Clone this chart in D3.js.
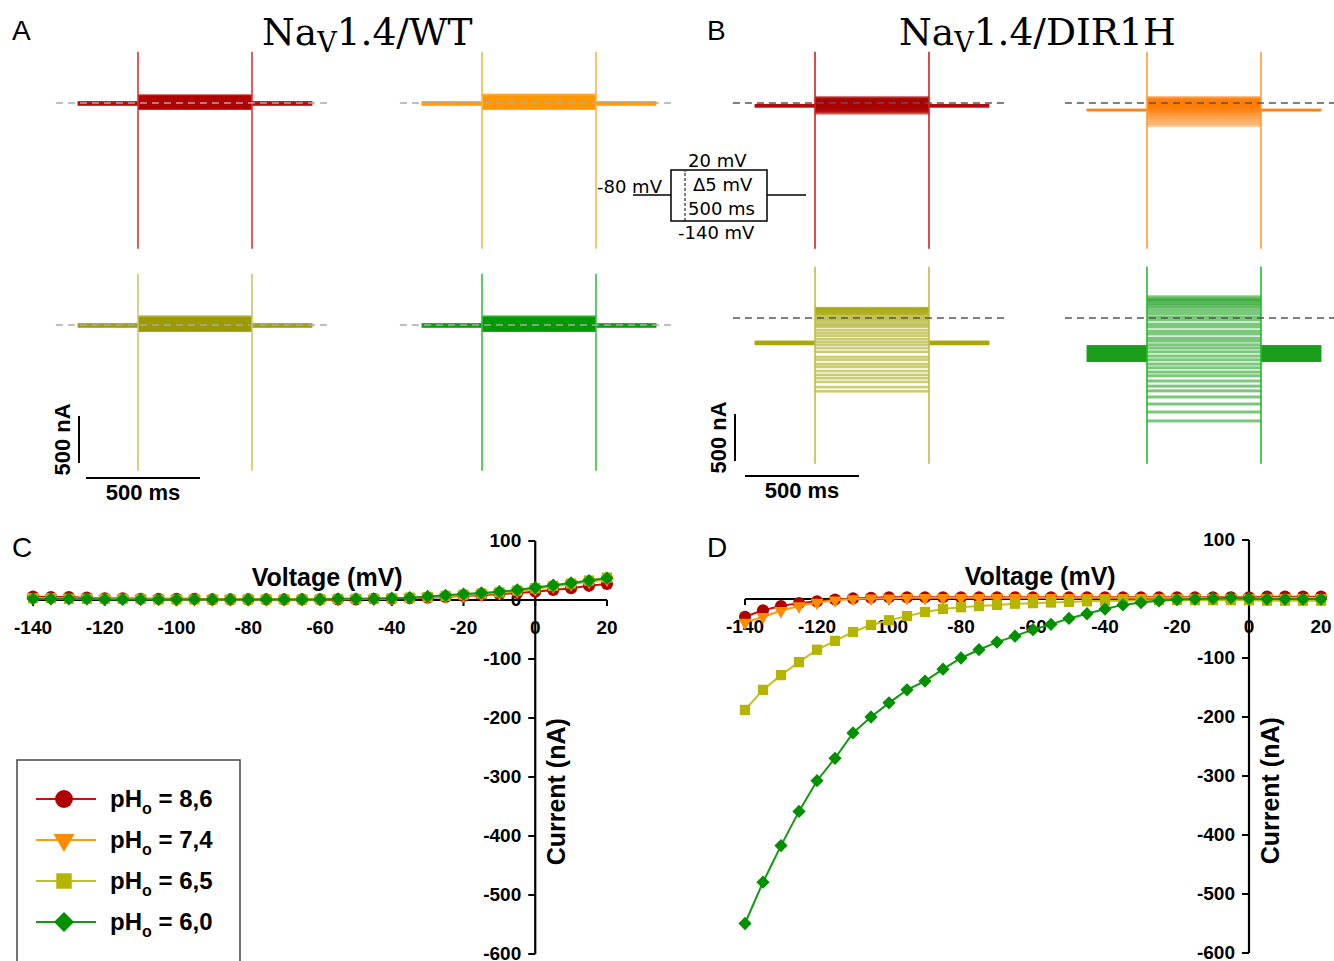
<!DOCTYPE html>
<html><head><meta charset="utf-8">
<script src="https://cdn.jsdelivr.net/npm/d3@7"></script>
<style>body{margin:0;background:#fff}svg{display:block}</style>
</head><body>
<svg id="fig" width="1334" height="961"></svg>
<script>
// ================= DATA =================
const voltages = [-140,-135,-130,-125,-120,-115,-110,-105,-100,-95,-90,-85,-80,-75,-70,-65,-60,-55,-50,-45,-40,-35,-30,-25,-20,-15,-10,-5,0,5,10,15,20];
const phLabels = ['8,6','7,4','6,5','6,0'];
const xTicks = [-140,-120,-100,-80,-60,-40,-20,0,20];
const yTicks = [100,0,-100,-200,-300,-400,-500,-600];

// Panel C: Nav1.4/WT I-V (nA)
const ivWT_86 = [6,5,5,4,3,3,2,2,2,2,1,1,1,1,1,1,1,1,1,2,2,3,4,5,7,8,10,12,14,17,20,24,27];
const ivWT_74 = [4,3,3,3,2,2,2,2,1,1,1,1,1,1,1,1,1,1,2,2,3,4,5,6,8,10,12,15,19,23,27,31,35];
const ivWT_65 = [3,3,2,2,2,2,2,1,1,1,1,1,1,1,1,1,1,2,2,2,3,4,5,7,9,11,13,16,20,24,28,33,38];
const ivWT_60 = [2,2,2,2,1,1,1,1,1,1,1,1,1,1,1,1,1,2,2,2,3,4,6,8,10,12,14,17,21,25,29,33,37];

// Panel D: Nav1.4/DIR1H I-V (nA)
const ivDIR_86 = [-30,-19,-12,-7,-4,-1,1,2,3,3,3,3,3,3,3,3,3,3,3,3,3,3,3,3,3,3,3,3,3,4,4,4,4];
const ivDIR_74 = [-40,-30,-20,-12,-6,-2,0,1,1,2,2,2,2,2,2,2,2,2,2,2,2,2,2,2,2,2,2,2,2,2,2,2,2];
const ivDIR_65 = [-188,-154,-129,-107,-86,-71,-56,-44,-36,-29,-22,-17,-14,-12,-10,-8,-7,-6,-5,-4,-3,-3,-2,-2,-2,-2,-2,-2,-2,-3,-3,-3,-3];
const ivDIR_60 = [-550,-480,-418,-360,-308,-270,-227,-200,-176,-154,-139,-119,-100,-86,-73,-63,-52,-43,-33,-25,-17,-10,-6,-3,-1,0,1,2,1,0,0,0,0];

// Panel B: representative trace step currents (nA) per sweep
const trDIR_86 = [-100,-90,-80,-70,-62,-55,-48,-42,-36,-30,-26,-22,-18,-15,-12,-10,-8,-6,-4,-2,0,2,4,6,8,12,16,20,25,30,36,42,50];
const trDIR_74 = [-235,-210,-188,-168,-150,-135,-120,-108,-96,-86,-77,-69,-62,-55,-49,-43,-38,-33,-28,-23,-18,-13,-8,-3,2,8,14,20,27,34,41,48,55];
const trDIR_65 = [-780,-735,-680,-640,-605,-565,-520,-490,-445,-415,-360,-320,-285,-255,-225,-190,-160,-130,-95,-75,-55,-30,-10,10,30,45,55,65,75,85,95,100,105];
const trDIR_60 = [-1095,-1000,-915,-840,-775,-725,-670,-615,-575,-530,-490,-445,-405,-360,-320,-285,-245,-215,-170,-140,-95,-65,-20,10,45,75,105,130,150,170,190,200,225];
// holding current and noise half-widths (nA) for the 8 trace panels (A: 8.6,7.4,6.5,6.0 ; B: same)
const traceHolding   = [-5,-5,-5,-5,-30,-75,-265,-378];
const traceHoldNoise = [25,25,25,25,20,15,25,90];
const traceStepNoise = [68,68,68,68,25,20,14,16];
const traceSpike = [545,-1550];

// protocol (mV / ms)
const protoLevels = [-80,20,-140];
const protoTimes = [-200,0,500,700];

// ================= LAYOUT / STYLE =================
const svg = d3.select('#fig');
const SANS = "'Liberation Sans', Arial, sans-serif";
const DJ = "'DejaVu Sans', sans-serif";
const SERIF = "'DejaVu Serif', serif";
const markColors = ['#b00000','#ff8c00','#b5b400','#009000'];
const lineColors = ['#cc1010','#ff9a10','#c2c026','#129a12'];

// panel letters
[['A',12,40],['B',707,40],['C',12,557],['D',707,557]].forEach(([t,x,y])=>{
  svg.append('text').attr('x',x).attr('y',y).attr('font-family',SANS).attr('font-size',28).text(t);
});
// titles
function title(x, rest){
  const t = svg.append('text').attr('x',x).attr('y',45).attr('font-family',SERIF).attr('font-size',37.5);
  t.append('tspan').text('Na');
  t.append('tspan').attr('font-size',27).attr('dy',7).text('V');
  t.append('tspan').attr('dy',-7).text(rest);
}
title(262,'1.4/WT');
title(899,'1.4/DIR1H');

// ================= TRACES =================
const tracePanels = [
  {x0:138, y0:103, steps:ivWT_86, color:'#b30000', spike:'#e03232', dash:'#aaaaaa', op:0.35},
  {x0:482, y0:103, steps:ivWT_74, color:'#ff9900', spike:'#ffb347', dash:'#aaaaaa', op:0.35},
  {x0:138, y0:325, steps:ivWT_65, color:'#9c9a00', spike:'#c9c86a', dash:'#aaaaaa', op:0.35},
  {x0:482, y0:325, steps:ivWT_60, color:'#009a00', spike:'#33c433', dash:'#aaaaaa', op:0.35},
  {x0:815, y0:103, steps:trDIR_86, color:'#aa0000', spike:'#d02020', dash:'#555555', op:0.45},
  {x0:1147,y0:103, steps:trDIR_74, color:'#ff7a00', spike:'#ff9a3a', dash:'#555555', op:0.4},
  {x0:815, y0:318, steps:trDIR_65, color:'#a3a300', spike:'#bdbd40', dash:'#555555', op:0.55},
  {x0:1147,y0:318, steps:trDIR_60, color:'#0f990f', spike:'#22bb22', dash:'#555555', op:0.55}
];
const stepMs = 500, pxPer500ms = 114, pxPer500nA = 47;
tracePanels.forEach((p,k)=>{
  const t = d3.scaleLinear().domain([0,stepMs]).range([p.x0, p.x0+pxPer500ms]);
  const c = d3.scaleLinear().domain([0,-500]).range([p.y0, p.y0+pxPer500nA]);
  const g = svg.append('g');
  const h = traceHolding[k], hn = traceHoldNoise[k], sn = traceStepNoise[k];
  [[-265,0],[500,765]].forEach(([a,b])=>{
    g.append('rect').attr('x',t(a)).attr('width',t(b)-t(a))
      .attr('y',c(h+hn)).attr('height',Math.max(1.5,c(h-hn)-c(h+hn)))
      .attr('fill',p.color).attr('opacity',0.95);
  });
  p.steps.forEach(v=>{
    g.append('rect').attr('x',t(0)).attr('width',t(500)-t(0))
      .attr('y',c(v+sn)).attr('height',c(v-sn)-c(v+sn))
      .attr('fill',p.color).attr('opacity',p.op);
  });
  [0,500].forEach(tt=>{
    g.append('line').attr('x1',t(tt)).attr('x2',t(tt))
      .attr('y1',c(traceSpike[0])).attr('y2',c(traceSpike[1]))
      .attr('stroke',p.spike).attr('stroke-width',1.6);
  });
  g.append('line').attr('x1',t(-360)).attr('x2',t(835)).attr('y1',c(0)).attr('y2',c(0))
    .attr('stroke',p.dash).attr('stroke-width',1.6).attr('stroke-dasharray','7,5');
});

// scale bars
function scaleBar(x0, y0, xv, yTop){
  const t = d3.scaleLinear().domain([0,stepMs]).range([x0, x0+pxPer500ms]);
  const c = d3.scaleLinear().domain([0,500]).range([yTop+pxPer500nA, yTop]);
  svg.append('line').attr('x1',t(0)).attr('x2',t(500)).attr('y1',y0).attr('y2',y0).attr('stroke','#000').attr('stroke-width',2);
  svg.append('line').attr('x1',xv).attr('x2',xv).attr('y1',c(0)).attr('y2',c(500)).attr('stroke','#000').attr('stroke-width',2);
  svg.append('text').attr('x',t(250)).attr('y',y0+22).attr('text-anchor','middle')
    .attr('font-family',SANS).attr('font-weight','bold').attr('font-size',22).text('500 ms');
  svg.append('text').attr('transform',`translate(${xv-9},${c(250)}) rotate(-90)`).attr('text-anchor','middle')
    .attr('font-family',SANS).attr('font-weight','bold').attr('font-size',22).text('500 nA');
}
scaleBar(86, 478, 79, 416);
scaleBar(745, 476, 735, 414);

// protocol inset
{
  const pt = d3.scaleLinear().domain([-200,0,500,700]).range([633,671,767,806]);
  const pv = d3.scaleLinear().domain([-140,-80,20]).range([221,195,170]);
  const g = svg.append('g').attr('stroke','#000').attr('stroke-width',1.5).attr('fill','none');
  g.append('line').attr('x1',pt(protoTimes[0])).attr('x2',pt(protoTimes[1])).attr('y1',pv(protoLevels[0])).attr('y2',pv(protoLevels[0]));
  g.append('line').attr('x1',pt(protoTimes[2])).attr('x2',pt(protoTimes[3])).attr('y1',pv(protoLevels[0])).attr('y2',pv(protoLevels[0]));
  g.append('rect').attr('x',pt(0)).attr('y',pv(protoLevels[1])).attr('width',pt(500)-pt(0)).attr('height',pv(protoLevels[2])-pv(protoLevels[1]));
  g.append('line').attr('x1',pt(73)).attr('x2',pt(73)).attr('y1',pv(-140)).attr('y2',pv(16)).attr('stroke-dasharray','3,2').attr('stroke-width',1);
  svg.append('path').attr('d',`M${pt(73)-2.5},${pv(14)} L${pt(73)},${pv(20)+1} L${pt(73)+2.5},${pv(14)} Z`).attr('fill','#000');
  const txt = [['-80 mV',597,193],['20 mV',688,167],['Δ5 mV',693,191],['500 ms',688,215],['-140 mV',678,239]];
  txt.forEach(([s,x,y])=>svg.append('text').attr('x',x).attr('y',y).attr('font-family',DJ).attr('font-size',18).text(s));
}

// ================= I-V PLOTS =================
const symTypes = [d3.symbolCircle, d3.symbolTriangle, d3.symbolSquare, d3.symbolSquare];
const symRot = [0,180,0,45];
const symSizeIV = [115,75,105,88];
const symSizeLeg = [250,190,240,200];

function ivPlot(xr, yr, series){
  const x = d3.scaleLinear().domain([-140,20]).range(xr);
  const y = d3.scaleLinear().domain([100,-600]).range(yr);
  const g = svg.append('g');
  const x0 = x(0), y0 = y(0);
  // axes
  g.append('line').attr('x1',x(-140)).attr('x2',x(20)).attr('y1',y0).attr('y2',y0).attr('stroke','#000').attr('stroke-width',2.2);
  g.append('line').attr('x1',x0).attr('x2',x0).attr('y1',y(100)).attr('y2',y(-600)).attr('stroke','#000').attr('stroke-width',2.2);
  xTicks.forEach(v=>{
    g.append('line').attr('x1',x(v)).attr('x2',x(v)).attr('y1',y0).attr('y2',y0+6).attr('stroke','#000').attr('stroke-width',2);
    g.append('text').attr('x',x(v)).attr('y',y0+34).attr('text-anchor','middle')
      .attr('font-family',SANS).attr('font-weight','bold').attr('font-size',19).text(v);
  });
  yTicks.forEach(v=>{
    g.append('line').attr('x1',x0-7).attr('x2',x0).attr('y1',y(v)).attr('y2',y(v)).attr('stroke','#000').attr('stroke-width',2);
    g.append('text').attr('x',x0-14).attr('y',y(v)+6).attr('text-anchor','end')
      .attr('font-family',SANS).attr('font-weight','bold').attr('font-size',19).text(v);
  });
  g.append('text').attr('x',x(-58)).attr('y',y0-14).attr('text-anchor','middle')
    .attr('font-family',SANS).attr('font-weight','bold').attr('font-size',25).text('Voltage (mV)');
  g.append('text').attr('transform',`translate(${x0+30},${y(-325)}) rotate(-90)`).attr('text-anchor','middle')
    .attr('font-family',SANS).attr('font-weight','bold').attr('font-size',25).text('Current (nA)');
  // series
  const line = d3.line().x((d,i)=>x(voltages[i])).y(d=>y(d));
  series.forEach((s,k)=>{
    g.append('path').attr('d',line(s)).attr('fill','none').attr('stroke',lineColors[k]).attr('stroke-width',2);
    g.selectAll(null).data(s).join('path')
      .attr('d',d3.symbol().type(symTypes[k]).size(symSizeIV[k]))
      .attr('transform',(d,i)=>`translate(${x(voltages[i])},${y(d)}) rotate(${symRot[k]})`)
      .attr('fill',markColors[k]);
  });
}
ivPlot([33,607],[541,954],[ivWT_86,ivWT_74,ivWT_65,ivWT_60]);
ivPlot([745,1321],[540,953],[ivDIR_86,ivDIR_74,ivDIR_65,ivDIR_60]);

// legend
{
  const g = svg.append('g');
  g.append('rect').attr('x',17).attr('y',760).attr('width',223).attr('height',220)
    .attr('fill','#fff').attr('stroke','#444').attr('stroke-width',1.5);
  phLabels.forEach((lab,k)=>{
    const yy = 799 + 41*k;
    g.append('line').attr('x1',36).attr('x2',96).attr('y1',yy).attr('y2',yy).attr('stroke',lineColors[k]).attr('stroke-width',2);
    g.append('path').attr('d',d3.symbol().type(symTypes[k]).size(symSizeLeg[k]))
      .attr('transform',`translate(64,${yy}) rotate(${symRot[k]})`).attr('fill',markColors[k]);
    const t = g.append('text').attr('x',110).attr('y',yy+8).attr('font-family',SANS).attr('font-weight','bold').attr('font-size',24);
    t.append('tspan').text('pH');
    t.append('tspan').attr('font-size',16).attr('dy',7).text('o');
    t.append('tspan').attr('dy',-7).text(' = '+lab);
  });
}
</script>
</body></html>
